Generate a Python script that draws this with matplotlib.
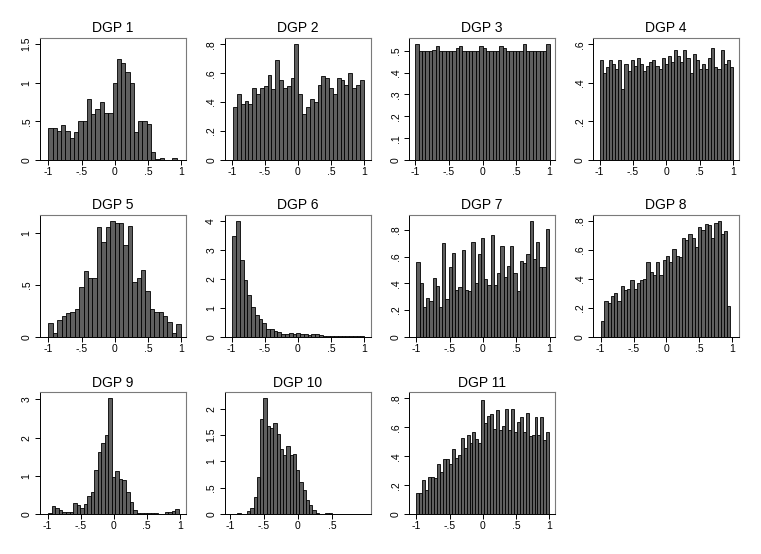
import numpy as np
import matplotlib
matplotlib.use("Agg")
import matplotlib.pyplot as plt
from matplotlib.ticker import FuncFormatter

plt.rcParams['font.family'] = ['Liberation Sans', 'DejaVu Sans']

# bar heights (density), left to right
dgp1 = [0.42, 0.42, 0.38, 0.45, 0.37, 0.29, 0.36, 0.51, 0.51, 0.79, 0.59, 0.66, 0.75, 0.61, 0.61,
        0.99, 1.31, 1.26, 1.14, 1.00, 0.36, 0.51, 0.50, 0.46, 0.10, 0.01, 0.03, 0.00, 0.00, 0.03]
dgp2 = [0.37, 0.46, 0.39, 0.41, 0.39, 0.50, 0.46, 0.50, 0.51, 0.59, 0.49, 0.69, 0.55, 0.50, 0.51,
        0.57, 0.80, 0.46, 0.32, 0.37, 0.42, 0.40, 0.52, 0.58, 0.57, 0.50, 0.46, 0.57, 0.55, 0.52,
        0.60, 0.50, 0.52, 0.55]
dgp3 = [0.53, 0.50, 0.50, 0.50, 0.50, 0.505, 0.52, 0.50, 0.50, 0.50, 0.50, 0.50, 0.51, 0.52,
        0.50, 0.50, 0.50, 0.50, 0.50, 0.52, 0.51, 0.50, 0.50, 0.50, 0.50, 0.52, 0.51, 0.50,
        0.50, 0.50, 0.50, 0.50, 0.53, 0.50, 0.50, 0.50, 0.50, 0.50, 0.50, 0.53]
dgp4 = [0.52, 0.45, 0.48, 0.52, 0.50, 0.47, 0.52, 0.37, 0.50, 0.46, 0.52, 0.49, 0.53, 0.50,
        0.46, 0.49, 0.51, 0.52, 0.49, 0.47, 0.53, 0.50, 0.54, 0.51, 0.57, 0.54, 0.51, 0.57,
        0.53, 0.45, 0.55, 0.52, 0.47, 0.50, 0.47, 0.53, 0.58, 0.48, 0.47, 0.57, 0.50, 0.52, 0.48]
dgp5 = [0.13, 0.04, 0.16, 0.20, 0.23, 0.24, 0.27, 0.48, 0.63, 0.56, 0.56, 1.05, 0.91, 1.05, 1.11,
        1.09, 1.09, 0.88, 1.06, 0.53, 0.56, 0.64, 0.44, 0.27, 0.24, 0.24, 0.20, 0.14, 0.04, 0.12]
dgp6 = [3.48, 4.00, 2.65, 1.96, 1.43, 1.03, 0.74, 0.60, 0.47, 0.28, 0.28, 0.20, 0.16, 0.10, 0.10,
        0.12, 0.08, 0.14, 0.11, 0.10, 0.05, 0.08, 0.08, 0.05, 0.03, 0.04, 0.03, 0.02, 0.02, 0.01,
        0.02, 0.01, 0.01, 0.01, 0.01]
dgp7 = [0.56, 0.40, 0.22, 0.29, 0.27, 0.44, 0.38, 0.22, 0.70, 0.28, 0.52, 0.63, 0.35, 0.37, 0.65,
        0.35, 0.34, 0.71, 0.40, 0.62, 0.74, 0.43, 0.39, 0.76, 0.39, 0.48, 0.68, 0.45, 0.53, 0.68,
        0.48, 0.34, 0.57, 0.55, 0.62, 0.87, 0.58, 0.71, 0.52, 0.52, 0.81]
dgp8 = [0.11, 0.25, 0.23, 0.28, 0.30, 0.25, 0.35, 0.32, 0.33, 0.39, 0.33, 0.37, 0.39, 0.40, 0.52,
        0.45, 0.43, 0.52, 0.43, 0.53, 0.56, 0.52, 0.61, 0.56, 0.55, 0.68, 0.67, 0.71, 0.68, 0.62,
        0.76, 0.74, 0.78, 0.77, 0.68, 0.79, 0.80, 0.71, 0.73, 0.21]
dgp9 = [0.04, 0.21, 0.17, 0.12, 0.06, 0.06, 0.07, 0.29, 0.25, 0.17, 0.26, 0.48, 0.57, 1.15, 1.62,
        1.87, 2.07, 3.03, 0.97, 1.14, 0.91, 0.89, 0.58, 0.33, 0.11, 0.03, 0.04, 0.04, 0.03, 0.04,
        0.03, 0.01, 0.01, 0.07, 0.07, 0.08, 0.13]
dgp10 = [0.01, 0.01, 0.03, 0.00, 0.00, 0.07, 0.12, 0.33, 0.71, 1.80, 2.21, 1.67, 1.64, 1.73, 1.52,
         1.23, 1.12, 1.29, 1.12, 1.15, 0.84, 0.62, 0.46, 0.28, 0.18, 0.09, 0.03, 0.01, 0.00, 0.02,
         0.02, 0.01]
dgp11 = [0.15, 0.15, 0.24, 0.17, 0.26, 0.26, 0.25, 0.35, 0.29, 0.38, 0.38, 0.35, 0.45, 0.39, 0.41,
         0.53, 0.46, 0.55, 0.49, 0.57, 0.52, 0.49, 0.79, 0.63, 0.68, 0.69, 0.59, 0.72, 0.58, 0.61,
         0.73, 0.58, 0.73, 0.57, 0.64, 0.67, 0.57, 0.70, 0.54, 0.55, 0.67, 0.55, 0.67, 0.51, 0.57]

heights = [dgp1, dgp2, dgp3, dgp4, dgp5, dgp6, dgp7, dgp8, dgp9, dgp10, dgp11]
titles = ['DGP %d' % (i + 1) for i in range(11)]

# range of the data in each panel (first bin start, last bin end)
data_min = [-1.00, -0.98, -1.00, -1.00, -1.00, -0.99, -1.00, -0.99, -0.99, -0.99, -1.00]
data_max = [0.93, 0.99, 1.00, 1.00, 0.99, 1.00, 0.99, 0.97, 0.99, 0.55, 1.00]

y_ticks = [[0, .5, 1, 1.5], [0, .2, .4, .6, .8], [0, .1, .2, .3, .4, .5], [0, .2, .4, .6],
           [0, .5, 1], [0, 1, 2, 3, 4], [0, .2, .4, .6, .8], [0, .2, .4, .6, .8],
           [0, 1, 2, 3], [0, .5, 1, 1.5, 2], [0, .2, .4, .6, .8]]
y_top = [1.578, 0.844, 0.558, 0.633, 1.173, 4.23, 0.915, 0.844, 3.18, 2.31, 0.842]
x_ticks = [[-1, -.5, 0, .5, 1]] * 9 + [[-1, -.5, 0, .5]] + [[-1, -.5, 0, .5, 1]]
x_lims = [(-1.126, 1.07), (-1.11, 1.095), (-1.096, 1.081), (-1.10, 1.09),
          (-1.126, 1.07), (-1.106, 1.095), (-1.11, 1.081), (-1.115, 1.10),
          (-1.116, 1.096), (-1.084, 1.07), (-1.11, 1.086)]


def stata_fmt(v, pos=None):
    s = ('%g' % round(v, 6))
    if s.startswith('0.'):
        s = s[1:]
    elif s.startswith('-0.'):
        s = '-' + s[2:]
    return s


W, H = 761, 554
fig = plt.figure(figsize=(W / 100, H / 100), dpi=100)

col_left = [40, 224.5, 409, 593]
row_top = [38, 214.7, 392.3]
box_w, box_h = 146, 122

for i in range(11):
    r, c = divmod(i, 4)
    ax = fig.add_axes([col_left[c] / W, 1 - (row_top[r] + box_h) / H, box_w / W, box_h / H])
    h = np.array(heights[i])
    edges = np.linspace(data_min[i], data_max[i], len(h) + 1)
    ax.bar(edges[:-1], h, width=np.diff(edges), align='edge',
           color='#5f5f5f', edgecolor='black', linewidth=0.6)
    ax.set_xlim(*x_lims[i])
    ax.set_ylim(0, y_top[i])
    ax.set_xticks(x_ticks[i])
    ax.set_yticks(y_ticks[i])
    ax.xaxis.set_major_formatter(FuncFormatter(stata_fmt))
    ax.yaxis.set_major_formatter(FuncFormatter(stata_fmt))
    ax.tick_params(axis='both', direction='out', length=3.5, width=0.7, labelsize=7.5)
    ax.tick_params(axis='x', pad=1.5)
    ax.tick_params(axis='y', pad=2.5)
    for lab in ax.get_yticklabels():
        lab.set_rotation(90)
        lab.set_va('center')
    for side in ['top', 'right']:
        ax.spines[side].set_color('#7a7a7a')
        ax.spines[side].set_linewidth(0.8)
    for side in ['left', 'bottom']:
        ax.spines[side].set_color('black')
        ax.spines[side].set_linewidth(0.7)
    ax.set_title(titles[i], fontsize=10, pad=4)

fig.savefig('out.png', dpi=100, facecolor='white')
